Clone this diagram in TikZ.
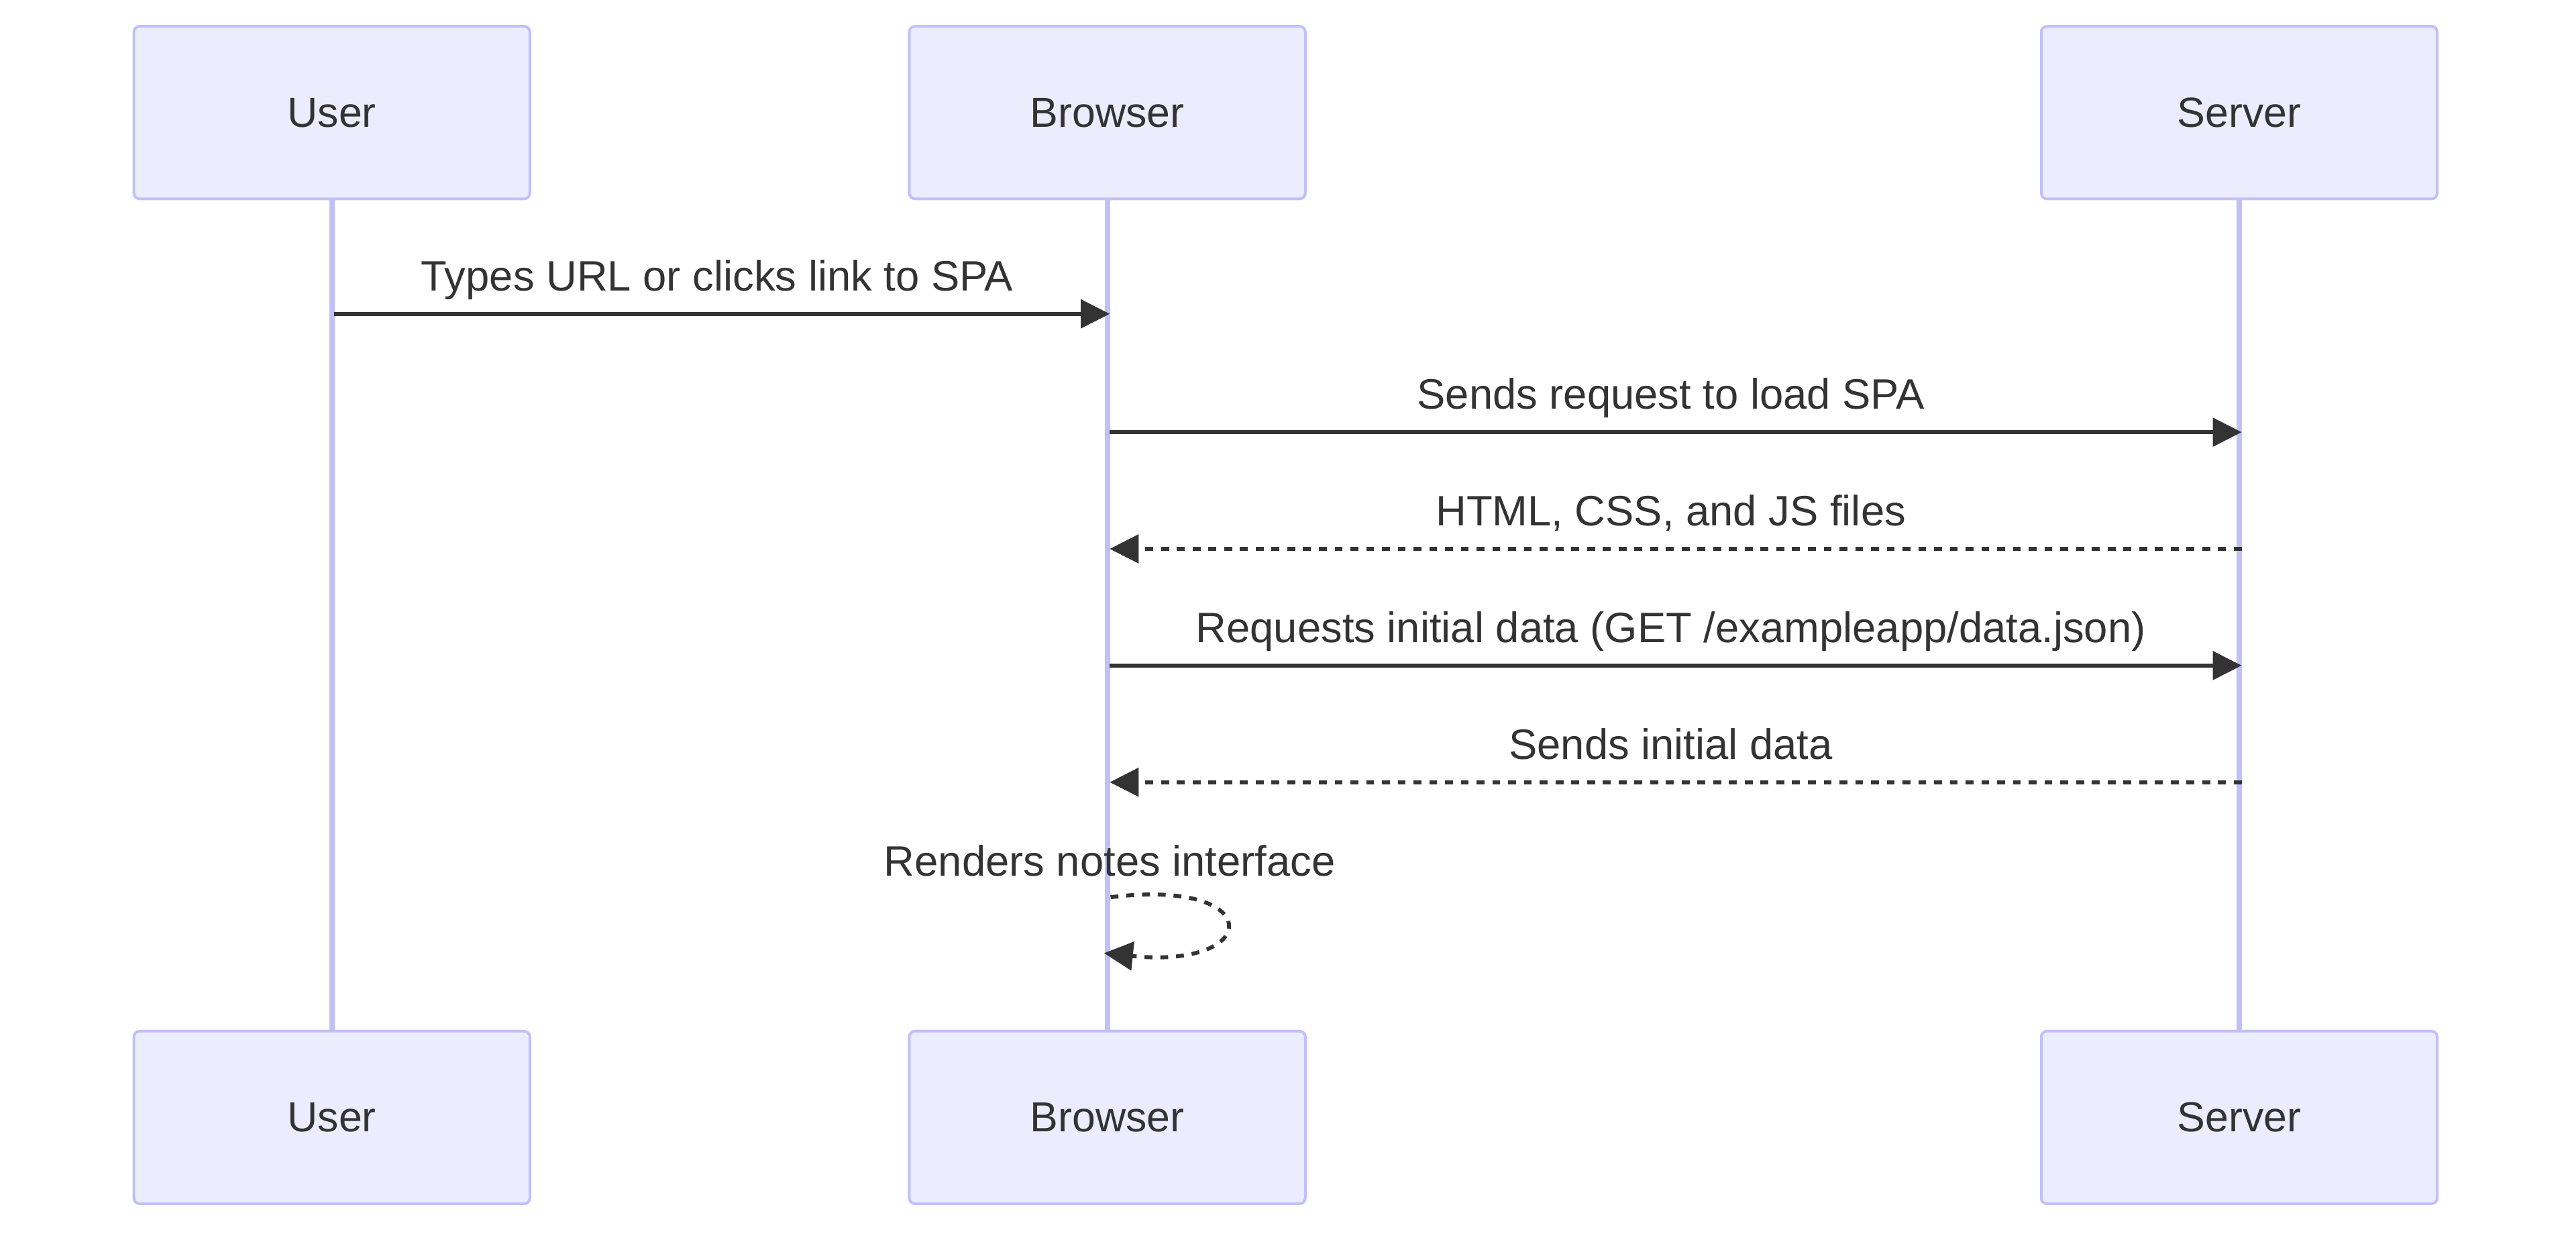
\documentclass[tikz,border=0pt]{standalone}
\usepackage{fontspec}
\setmainfont{Liberation Sans}
\usetikzlibrary{arrows.meta,calc}

\definecolor{actfill}{HTML}{ECECFF}
\definecolor{actline}{HTML}{C0C0FA}
\definecolor{msgcol}{HTML}{333333}

\tikzset{
  actor/.style={draw=actline,fill=actfill,line width=1.15pt,rounded corners=2.5pt,
    minimum width=6.025cm,minimum height=2.625cm,text=msgcol,
    font=\fontsize{18.2}{22}\selectfont},
  lifeline/.style={draw=actline,line width=2.3pt},
  msg/.style={draw=msgcol,line width=1.7pt,-{Triangle[length=0.44cm,width=0.43cm]}},
  reply/.style={msg,dash pattern=on 0.12cm off 0.12cm},
  msgtext/.style={text=msgcol,anchor=base,font=\fontsize{18.4}{22}\selectfont}
}

\begin{document}
\begin{tikzpicture}[x=0.025cm,y=-0.025cm]
\useasboundingbox (0,0) rectangle (1568,752);

%Lifelines first, then the actor boxes on top
\foreach \n/\x/\t in {u/202/User,b/674/Browser,s/1363/Server}
{
  \coordinate (\n1) at (\x,121);
  \coordinate (\n2) at (\x,628);
  \draw[lifeline] (\n1) -- (\n2);
  \node[actor] (\n T) at (\x,68.5) {\t};
  \node[actor] (\n B) at (\x,680) {\t};
}

%Messages: number/from/to/y/style/label
\foreach \m/\a/\b/\y/\s/\t in {1/uT/bT/191/msg/{Types URL or clicks link to SPA},
    2/bT/sT/263/msg/{Sends request to load SPA},
    3/sT/bT/334/reply/{HTML, CSS, and JS files},
    4/bT/sT/405/msg/{Requests initial data (GET /exampleapp/data.json)},
    5/sT/bT/476/reply/{Sends initial data}}
{
  \coordinate (a\m) at ($(\a |- 0,\y)+(1.5,0)$);
  \coordinate (b\m) at ($(\b |- 0,\y)+(1.5,0)$);
  \draw[\s] (a\m) -- (b\m);
  \node[msgtext] (l\m) at ($(\a |- 0,\y)!.5!(\b |- 0,\y)+(-1.5,-14)$) {\t};
}

%Self message on the browser
\coordinate (r1) at ($(bT |- 0,546)+(2,0)$);
\coordinate (r2) at ($(bT |- 0,580)+(-2,0)$);
\node[msgtext] (l6) at ($(bT |- 0,533)+(1.5,0)$) {Renders notes interface};
\draw[reply] (r1) .. controls +(95,-12) and +(97,10) .. (r2);

\end{tikzpicture}
\end{document}
